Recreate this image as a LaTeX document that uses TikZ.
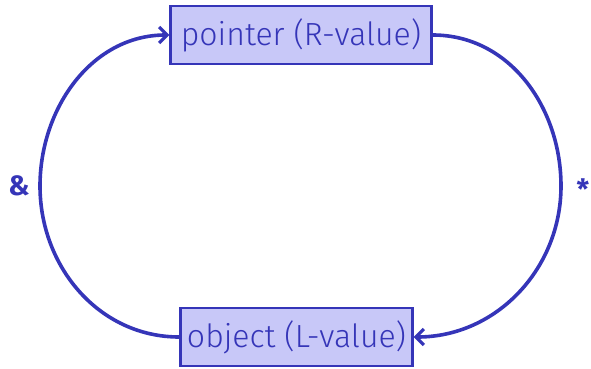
\documentclass[tikz,border=0pt]{standalone}
\usepackage{fontspec}
\setmainfont{Fira Sans Light}
\newfontfamily\symfont{Fira Sans}[UprightFont=* Bold]
\usetikzlibrary{arrows.meta}
\definecolor{ink}{HTML}{3535B8}
\definecolor{boxfill}{HTML}{C8C8F8}
\tikzset{
  valbox/.style={draw=ink, fill=boxfill, line width=2.4pt, text=ink, font=\fontsize{32}{36}\selectfont, inner sep=0pt, minimum height=58pt, anchor=center},
  conn/.style={draw=ink, line width=3.6pt, -{Straight Barb[length=8pt,width=16pt,line width=3.2pt]}},
  symlbl/.style={text=ink, font=\symfont\fontsize{28}{32}\selectfont}
}
\begin{document}
\begin{tikzpicture}[x=1pt,y=-1pt]
\useasboundingbox (0,0) rectangle (591,369);
\node[valbox, minimum width=261pt] (ptr) at (301,35) {pointer (R-value)};
\node[valbox, minimum width=232pt] (obj) at (296.5,337) {object (L-value)};
\coordinate (lmid) at (40,186);
\coordinate (rmid) at (561,186);
\draw[conn] (obj.west) to[out=180,in=270] (lmid) to[out=90,in=180] (ptr.west);
\draw[conn] (ptr.east) to[out=0,in=90] (rmid) to[out=270,in=0] (obj.east);
\node[symlbl] (amp) at (19,186) {\&};
\node[symlbl] (star) at (583,189) {*};
\end{tikzpicture}
\end{document}
